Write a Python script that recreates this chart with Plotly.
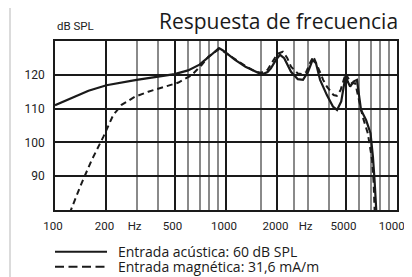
import plotly.graph_objects as go

# --- data ---
freq_acoustic = [100, 125, 157, 200, 245, 300, 384, 500, 600, 700, 790, 860, 910, 960, 1000,
                 1130, 1300, 1480, 1620, 1750, 1830, 1960, 2070, 2190, 2300, 2400, 2630, 2820,
                 3020, 3210, 3360, 3550, 3890, 4220, 4460, 4720, 4880, 5010, 5150, 5320, 5570,
                 5830, 6160, 6600, 7000, 7230, 7390, 7560, 7600]
db_acoustic = [111.0, 113.2, 115.3, 116.9, 117.8, 118.5, 119.3, 120.2, 121.3, 123.0, 125.2, 126.8,
               127.9, 127.2, 126.5, 124.4, 122.4, 120.9, 120.1, 120.8, 121.9, 124.4, 125.9, 124.9,
               122.8, 120.9, 118.7, 118.5, 120.9, 124.4, 123.4, 118.5, 114.0, 110.6, 109.6, 112.1,
               116.5, 119.9, 118.0, 116.5, 118.0, 118.5, 109.6, 106.6, 102.7, 95.8, 88.9, 80.0, 78.0]

freq_magnetic = [122, 125, 143, 164, 192, 219, 245, 293, 351, 440, 527, 630, 720, 790, 866, 910,
                 960, 1000, 1130, 1300, 1480, 1600, 1750, 1900, 2000, 2150, 2280, 2400, 2630, 2800,
                 2950, 3100, 3240, 3470, 3700, 3890, 4260, 4450, 4680, 4880, 5010, 5250, 5450,
                 5700, 5950, 6300, 6750, 7150, 7300, 7390, 7420]
db_magnetic = [79.0, 80.5, 87.9, 94.8, 101.7, 108.1, 111.1, 113.5, 115.0, 116.5, 117.7, 119.9,
               122.9, 125.4, 126.9, 127.6, 127.0, 126.4, 124.5, 122.6, 121.0, 120.6, 121.5, 124.5,
               126.2, 126.8, 125.0, 122.4, 120.4, 120.2, 120.9, 123.5, 125.4, 121.9, 118.5, 116.5,
               114.0, 113.8, 115.5, 118.5, 120.4, 118.5, 117.5, 117.5, 113.0, 107.6, 102.7, 94.8,
               88.0, 80.0, 78.0]

x_tick_vals = [100, 200, 300, 500, 1000, 2000, 3000, 5000, 10000]
x_tick_text = ["100", "200", "Hz", "500", "1000", "2000", "Hz", "5000", "10000"]
x_grid_dark = [200, 500, 1000, 2000, 5000]
x_grid_light = [300, 400, 600, 700, 800, 900, 1600, 2500, 3000, 4000, 6000, 7000, 8000, 9000]
y_tick_vals = [90, 100, 110, 120]

series_names = ["Entrada acústica: 60 dB SPL", "Entrada magnética: 31,6 mA/m"]
title_text = "Respuesta de frecuencia"
y_unit = "dB SPL"

INK = "#1a1a1a"
OFF = 8  # default page body margin
W, H = 412 - OFF, 277 - OFF
ML, MR, MT, MB = 55 - OFF, 15, 41 - OFF, 67
PW, PH = W - ML - MR, H - MT - MB


def px(xp):
    # x position in window pixels -> paper coordinates
    return (xp - OFF - ML) / PW


def py(yp):
    # y position in window pixels -> paper coordinates
    return (H - MB - (yp - OFF)) / PH


fig = go.Figure()
fig.add_trace(go.Scatter(x=freq_magnetic, y=db_magnetic, mode="lines", xaxis="x2",
                         line=dict(color=INK, width=2, dash="6px,4px"),
                         name=series_names[1], showlegend=False))
fig.add_trace(go.Scatter(x=freq_acoustic, y=db_acoustic, mode="lines",
                         line=dict(color=INK, width=2.2),
                         name=series_names[0], showlegend=False))

font_ticks = dict(family="Roboto, Arial, sans-serif", size=12, color="#222")
font_xticks = dict(family="Roboto, Arial, sans-serif", size=11.5, color="#222")

fig.update_layout(
    width=W, height=H,
    margin=dict(l=ML, r=MR, t=MT, b=MB, autoexpand=False),
    paper_bgcolor="white", plot_bgcolor="white",
    xaxis=dict(type="log", range=[2, 4], tickvals=x_tick_vals, ticktext=x_tick_text,
               showgrid=False, ticks="", tickfont=font_xticks, ticklabelstandoff=4,
               ticklabeloverflow="allow", automargin=False, ticklabelshift=-2,
               showline=True, mirror=True, linecolor=INK, linewidth=1.5, zeroline=False,
               minor=dict(tickvals=x_grid_light, showgrid=True, gridcolor="#8a8a8a",
                          gridwidth=1.6, ticks="")),
    xaxis2=dict(type="log", range=[2, 4], overlaying="x", tickvals=x_grid_dark,
                showticklabels=False, ticks="", showgrid=True, gridcolor=INK, gridwidth=1.6,
                zeroline=False, automargin=False),
    yaxis=dict(range=[80, 130], tickvals=y_tick_vals, showgrid=True, gridcolor=INK,
               gridwidth=1.6, ticks="", tickfont=font_ticks, ticklabelstandoff=6,
               automargin=False,
               showline=True, mirror=True, linecolor=INK, linewidth=1.5, zeroline=False),
    showlegend=False,
)

# title and unit label
fig.add_annotation(text=title_text, xref="paper", yref="paper", x=1.0, y=py(37),
                   xanchor="right", yanchor="bottom", showarrow=False, xshift=3,
                   font=dict(family="Open Sans, sans-serif", size=21, color=INK))
fig.add_annotation(text=y_unit, xref="paper", yref="paper", x=0, y=py(35),
                   xanchor="left", yanchor="bottom", showarrow=False,
                   font=dict(family="Roboto, Arial, sans-serif", size=11.5, color="#222"))

# thin grey rule at left of page
fig.add_shape(type="line", xref="paper", yref="paper", x0=px(10), x1=px(10), y0=py(OFF), y1=py(277),
              line=dict(color="#cfcfcf", width=1.5))

# manual legend
leg_y = [251.7, 266.7]
leg_dash = ["solid", "9px,4.5px"]
for name, yy, dash in zip(series_names, leg_y, leg_dash):
    fig.add_shape(type="line", xref="paper", yref="paper", x0=px(55), x1=px(107),
                  y0=py(yy), y1=py(yy), line=dict(color=INK, width=2, dash=dash))
    fig.add_annotation(text=name, xref="paper", yref="paper", x=px(116), y=py(yy),
                       xanchor="left", yanchor="middle", showarrow=False,
                       font=dict(family="Open Sans, sans-serif", size=14, color=INK))

fig.write_html("out.html")
